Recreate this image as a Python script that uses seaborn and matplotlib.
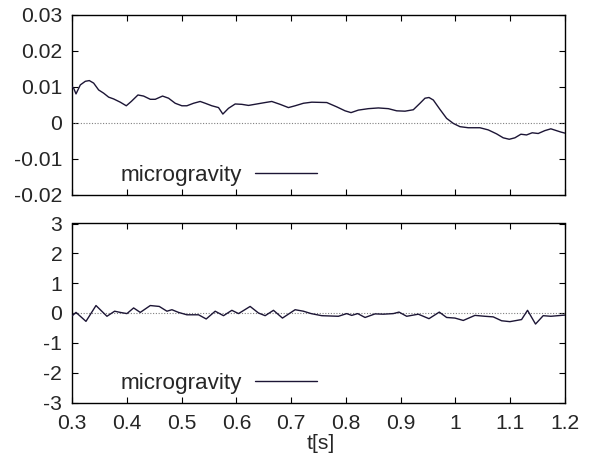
import numpy as np
import pandas as pd
import matplotlib
matplotlib.use("Agg")
import matplotlib.pyplot as plt
import seaborn as sns

# ---- data ----
t_top = [0.3000, 0.3030, 0.3073, 0.3152, 0.3243, 0.3316, 0.3395, 0.3486, 0.3578, 0.3669,
         0.3760, 0.3881, 0.3991, 0.4082, 0.4204, 0.4307, 0.4429, 0.4520, 0.4653, 0.4763,
         0.4884, 0.5006, 0.5097, 0.5219, 0.5340, 0.5432, 0.5553, 0.5675, 0.5754, 0.5857,
         0.5979, 0.6100, 0.6222, 0.6374, 0.6526, 0.6647, 0.6799, 0.6951, 0.7073, 0.7225,
         0.7377, 0.7651, 0.7833, 0.7985, 0.8094, 0.8228, 0.8410, 0.8593, 0.8775, 0.8927,
         0.9079, 0.9231, 0.9353, 0.9444, 0.9517, 0.9596, 0.9717, 0.9839, 0.9961, 1.0082,
         1.0234, 1.0447, 1.0599, 1.0751, 1.0872, 1.0982, 1.1085, 1.1195, 1.1298, 1.1401,
         1.1511, 1.1632, 1.1742, 1.1925, 1.2000]
a_top = [0.0100, 0.0096, 0.0080, 0.0105, 0.0115, 0.0117, 0.0110, 0.0091, 0.0082, 0.0071,
         0.0066, 0.0057, 0.0047, 0.0059, 0.0077, 0.0074, 0.0065, 0.0065, 0.0074, 0.0068,
         0.0054, 0.0047, 0.0047, 0.0054, 0.0059, 0.0054, 0.0047, 0.0042, 0.0024, 0.0040,
         0.0052, 0.0051, 0.0048, 0.0052, 0.0056, 0.0059, 0.0051, 0.0042, 0.0047, 0.0054,
         0.0057, 0.0056, 0.0044, 0.0033, 0.0028, 0.0035, 0.0039, 0.0041, 0.0039, 0.0033,
         0.0032, 0.0036, 0.0054, 0.0068, 0.0070, 0.0063, 0.0037, 0.0012, -0.0002, -0.0011,
         -0.0014, -0.0014, -0.0020, -0.0031, -0.0042, -0.0046, -0.0042, -0.0032, -0.0034,
         -0.0028, -0.0030, -0.0022, -0.0017, -0.0026, -0.0029]

t_bot = [0.3000, 0.3073, 0.3255, 0.3438, 0.3638, 0.3778, 0.3881, 0.4003, 0.4125, 0.4246,
         0.4429, 0.4593, 0.4733, 0.4824, 0.4945, 0.5097, 0.5310, 0.5450, 0.5614, 0.5766,
         0.5918, 0.6040, 0.6252, 0.6404, 0.6526, 0.6678, 0.6842, 0.7073, 0.7225, 0.7365,
         0.7559, 0.7863, 0.8015, 0.8106, 0.8216, 0.8350, 0.8532, 0.8684, 0.8866, 0.8970,
         0.9110, 0.9322, 0.9517, 0.9705, 0.9839, 0.9991, 1.0143, 1.0356, 1.0538, 1.0690,
         1.0842, 1.0994, 1.1207, 1.1316, 1.1462, 1.1602, 1.1742, 1.2000]
a_bot = [-0.10, 0.02, -0.28, 0.25, -0.11, 0.06, 0.02, -0.02, 0.17, 0.02,
         0.25, 0.22, 0.06, 0.11, 0.02, -0.06, -0.06, -0.20, 0.06, -0.09,
         0.09, -0.02, 0.22, 0.00, -0.09, 0.09, -0.17, 0.11, 0.06, -0.02,
         -0.09, -0.11, -0.02, -0.08, -0.02, -0.15, -0.03, -0.04, -0.02, 0.03,
         -0.11, -0.04, -0.19, 0.03, -0.15, -0.17, -0.25, -0.08, -0.11, -0.13,
         -0.26, -0.29, -0.22, 0.09, -0.37, -0.09, -0.11, -0.07]

series_label = "microgravity"
x_ticks = [0.3, 0.4, 0.5, 0.6, 0.7, 0.8, 0.9, 1.0, 1.1, 1.2]
x_ticklabels = ["0.3", "0.4", "0.5", "0.6", "0.7", "0.8", "0.9", "1", "1.1", "1.2"]
y_top_ticks = [0.03, 0.02, 0.01, 0.0, -0.01, -0.02]
y_top_labels = ["0.03", "0.02", "0.01", "0", "-0.01", "-0.02"]
y_bot_ticks = [3, 2, 1, 0, -1, -2, -3]
y_bot_labels = ["3", "2", "1", "0", "-1", "-2", "-3"]
x_label = "t[s]"

# ---- style ----
sns.set_theme(style="white")
plt.rcParams["font.family"] = ["Liberation Sans", "DejaVu Sans"]
FS = 15.2
FS_LEG = 16.2
LINE_C = "#1c1535"

W, H = 596, 454
L, R = 72, 565
fig = plt.figure(figsize=(W / 100, H / 100), dpi=100)
ax1 = fig.add_axes([L / W, 1 - 194.7 / H, (R - L) / W, 180 / H])
ax2 = fig.add_axes([L / W, 1 - 402.5 / H, (R - L) / W, 179 / H])

df_top = pd.DataFrame({"t": t_top, "a": a_top})
df_bot = pd.DataFrame({"t": t_bot, "a": a_bot})

for ax, df, yt, yl, ylim in [
    (ax1, df_top, y_top_ticks, y_top_labels, (-0.02, 0.03)),
    (ax2, df_bot, y_bot_ticks, y_bot_labels, (-3, 3)),
]:
    ax.axhline(0, ls=(0, (1, 1.5)), color="#808080", lw=0.8, zorder=1)
    sns.lineplot(data=df, x="t", y="a", ax=ax, color=LINE_C, lw=1.0,
                 estimator=None, sort=False, label=series_label, zorder=3)
    for ln in ax.get_lines():
        ln.set_solid_joinstyle("round")
    ax.set_xlim(0.3, 1.2)
    ax.set_ylim(*ylim)
    ax.set_yticks(yt)
    ax.set_yticklabels(yl, fontsize=FS)
    ax.set_xticks(x_ticks)
    ax.tick_params(direction="in", length=4, width=0.8, color="black",
                   top=True, right=True, bottom=True, left=True, pad=7)
    for s in ax.spines.values():
        s.set_color("black")
        s.set_linewidth(1.0)
    ax.set_ylabel("")
    ax.set_xlabel("")
    ax.set_facecolor("white")
    leg = ax.legend(loc="center left", bbox_to_anchor=(0.098, 0.105), frameon=False,
                    markerfirst=False, fontsize=FS_LEG, handlelength=2.75,
                    handletextpad=0.6, borderpad=0, borderaxespad=0)
    for ln in leg.get_lines():
        ln.set_linewidth(1.0)

ax1.set_xticklabels([])
ax2.set_xticklabels(x_ticklabels, fontsize=FS)
ax2.tick_params(axis="x", pad=8)
ax2.set_xlabel(x_label, fontsize=FS)
ax2.xaxis.set_label_coords(0.505, -0.175)

fig.savefig("out.png", dpi=100, facecolor="white")
